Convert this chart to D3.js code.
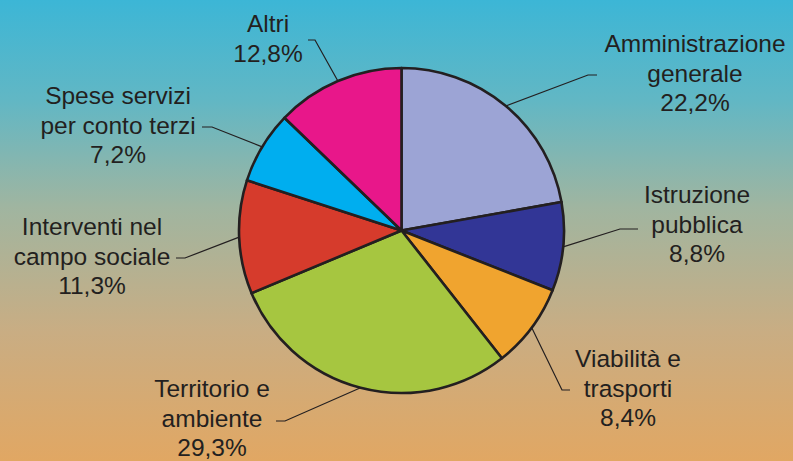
<!DOCTYPE html>
<html>
<head>
<meta charset="utf-8">
<script src="https://cdn.jsdelivr.net/npm/d3@7"></script>
<style>
  html, body { margin: 0; padding: 0; }
  body { width: 793px; height: 461px; overflow: hidden; }
  svg { display: block; }
</style>
</head>
<body>
<svg id="chart" width="793" height="461"></svg>
<script>
/* ── Data ─────────────────────────────── */
const categories = [
    "Amministrazione generale",
    "Istruzione pubblica",
    "Viabilità e trasporti",
    "Territorio e ambiente",
    "Interventi nel campo sociale",
    "Spese servizi per conto terzi",
    "Altri"
];
const values = [22.2, 8.8, 8.4, 29.3, 11.3, 7.2, 12.8];
const valueLabels = ["22,2%", "8,8%", "8,4%", "29,3%", "11,3%", "7,2%", "12,8%"];
const labelLines = [
    ["Amministrazione", "generale"],
    ["Istruzione", "pubblica"],
    ["Viabilità e", "trasporti"],
    ["Territorio e", "ambiente"],
    ["Interventi nel", "campo sociale"],
    ["Spese servizi", "per conto terzi"],
    ["Altri"]
];
const colors = ["#9ca4d5", "#323696", "#f0a42f", "#a6c640", "#d63b2c", "#00aeef", "#e8178a"];

/* ── Label layout (elbow, line end, text centre, first baseline) ── */
const layout = [
    { elbow: [588, 75],  end: [597, 75],  tx: 695, ty: 52 },
    { elbow: [620, 229], end: [638, 229], tx: 697, ty: 203 },
    { elbow: [562, 390], end: [570, 390], tx: 628, ty: 367 },
    { elbow: [285, 421], end: [276, 421], tx: 212, ty: 397 },
    { elbow: [185, 258], end: [176, 258], tx: 92,  ty: 235 },
    { elbow: [212, 127], end: [202, 127], tx: 118, ty: 104 },
    { elbow: [315, 40],  end: [308, 40],  tx: 268, ty: 32 }
];

const width = 793, height = 461;
const cx = 401.5, cy = 230.5, radius = 162.5;
const lineHeight = 29.5;

const svg = d3.select("#chart");

/* ── Background gradient ─────────────── */
const defs = svg.append("defs");
const bg = defs.append("linearGradient")
    .attr("id", "bg").attr("x1", "0").attr("y1", "0").attr("x2", "0").attr("y2", "1");
[["0%", "#3cb6d6"], ["22%", "#62b7c4"], ["45%", "#a0b5a0"], ["72%", "#c9ad83"], ["100%", "#e1a763"]]
    .forEach(([o, c]) => bg.append("stop").attr("offset", o).attr("stop-color", c));

svg.append("rect").attr("width", width).attr("height", height).attr("fill", "url(#bg)");

/* ── Pie ─────────────────────────────── */
const data = categories.map((c, i) => ({ name: c, value: values[i], idx: i }));
const pie = d3.pie().value(d => d.value).sort(null);
const arcs = pie(data);
const arc = d3.arc().innerRadius(0).outerRadius(radius);
const edgeArc = d3.arc().innerRadius(radius).outerRadius(radius);

const g = svg.append("g").attr("transform", `translate(${cx},${cy})`);

g.selectAll("path.slice")
    .data(arcs).join("path")
    .attr("class", "slice")
    .attr("d", arc)
    .attr("fill", d => colors[d.data.idx])
    .attr("stroke", "#231f20")
    .attr("stroke-width", 2.6)
    .attr("stroke-linejoin", "round");

/* ── Leader lines ────────────────────── */
svg.append("g").selectAll("polyline")
    .data(arcs).join("polyline")
    .attr("points", d => {
        const a = (d.startAngle + d.endAngle) / 2;
        const p = [cx + Math.sin(a) * radius, cy - Math.cos(a) * radius];
        const L = layout[d.data.idx];
        return [p, L.elbow, L.end].map(q => q.join(",")).join(" ");
    })
    .attr("fill", "none")
    .attr("stroke", "#231f20")
    .attr("stroke-width", 1.2);

/* ── Labels ──────────────────────────── */
const labels = svg.append("g")
    .attr("font-family", "'Liberation Sans', Arial, Helvetica, sans-serif")
    .attr("font-size", 24.5)
    .attr("fill", "#231f20")
    .attr("text-anchor", "middle");

labels.selectAll("text")
    .data(arcs).join("text")
    .each(function (d) {
        const L = layout[d.data.idx];
        const lines = labelLines[d.data.idx].concat([valueLabels[d.data.idx]]);
        d3.select(this).selectAll("tspan")
            .data(lines).join("tspan")
            .attr("x", L.tx)
            .attr("y", (t, j) => L.ty + j * lineHeight)
            .text(t => t);
    });
</script>
</body>
</html>
